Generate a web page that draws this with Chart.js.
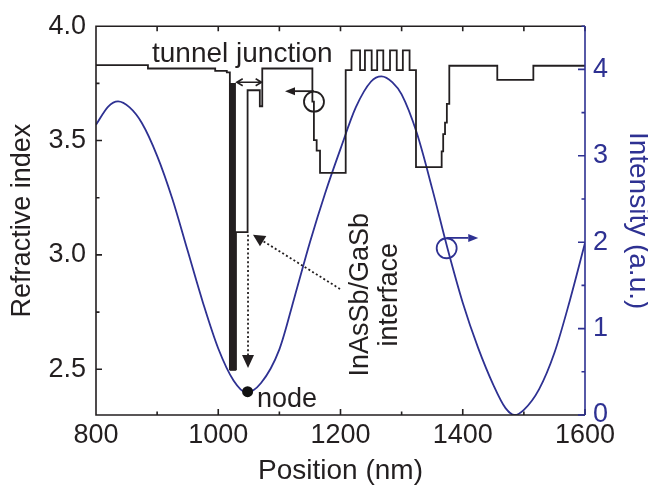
<!DOCTYPE html>
<html>
<head>
<meta charset="utf-8">
<script src="https://cdn.jsdelivr.net/npm/chart.js@4.4.1/dist/chart.umd.min.js"></script>
<style>
  html, body { margin: 0; padding: 0; background: #fff; }
</style>
</head>
<body>
<canvas id="chart" width="648" height="488"></canvas>
<script>
// refractive index profile: start of each layer (nm) and its index
const layerStart = [800, 885, 995, 1014, 1019, 1029, 1048, 1068, 1072, 1154, 1156.5, 1161, 1166.5,
  1208.5, 1218, 1232, 1240, 1251, 1260, 1270, 1281, 1292, 1302, 1313, 1323.5,
  1365.5, 1368, 1371, 1374, 1378, 1456.5, 1515.5, 1600];
const layerIndex = [3.830, 3.815, 3.805, 3.798, 2.50, 3.10, 3.72, 3.65, 3.815, 3.67, 3.502, 3.456, 3.359,
  3.808, 3.894, 3.808, 3.894, 3.808, 3.894, 3.808, 3.894, 3.808, 3.894, 3.808, 3.384,
  3.453, 3.528, 3.578, 3.660, 3.827, 3.765, 3.827, 3.827];
// thin low-index layer of the tunnel junction, drawn solid
const barPos = [1024, 1024];
const barIndex = [2.494, 3.752];
// optical field intensity
const posNm = [800, 820, 836, 855, 875, 900, 925, 950, 975, 1000, 1025, 1046, 1070, 1100, 1125, 1150,
  1175, 1200, 1225, 1250, 1267, 1285, 1300, 1325, 1350, 1375, 1400, 1425, 1450, 1470, 1485, 1500,
  1525, 1550, 1575, 1600];
const intensity = [3.36, 3.57, 3.63, 3.56, 3.38, 3.00, 2.50, 1.90, 1.30, 0.77, 0.40, 0.26, 0.37, 0.76, 1.37, 2.00,
  2.57, 3.08, 3.56, 3.86, 3.92, 3.85, 3.71, 3.26, 2.62, 1.93, 1.30, 0.78, 0.35, 0.08, 0.00, 0.06,
  0.30, 0.72, 1.32, 1.99];
const nodePos = [1048];
const nodeInt = [0.27];
const xTicks = [800, 1000, 1200, 1400, 1600];
const nTicks = [2.5, 3.0, 3.5, 4.0];
const iTicks = [0, 1, 2, 3, 4];

const BLACK = '#231f20';
const BLUE = '#2e3192';
const FONT = "'Liberation Sans', Arial, Helvetica, sans-serif";

const mid = arr => arr.slice(1).map((v, i) => (v + arr[i]) / 2);

function head(ctx, x0, y0, x1, y1, len, hw) {
  const a = Math.atan2(y1 - y0, x1 - x0);
  const bx = x1 - len * Math.cos(a), by = y1 - len * Math.sin(a);
  ctx.beginPath();
  ctx.moveTo(x1, y1);
  ctx.lineTo(bx + hw * Math.sin(a), by - hw * Math.cos(a));
  ctx.lineTo(bx - hw * Math.sin(a), by + hw * Math.cos(a));
  ctx.closePath();
  ctx.fill();
  return [bx, by];
}

const annot = {
  id: 'annot',
  afterDatasetsDraw(chart) {
    const { ctx, chartArea: a, scales: { x, y, y2 } } = chart;
    const px = v => x.getPixelForValue(v);
    const py = v => y.getPixelForValue(v);
    const pi = v => y2.getPixelForValue(v);
    ctx.save();

    // frame + inward ticks
    ctx.lineWidth = 1.6;
    ctx.strokeStyle = BLACK;
    ctx.beginPath();
    ctx.moveTo(a.right, a.top); ctx.lineTo(a.left, a.top);
    ctx.lineTo(a.left, a.bottom); ctx.lineTo(a.right, a.bottom);
    const xAll = xTicks.concat(mid(xTicks));
    xAll.forEach(v => {
      const len = xTicks.includes(v) ? 6 : 3.5;
      ctx.moveTo(px(v), a.bottom); ctx.lineTo(px(v), a.bottom - len);
      ctx.moveTo(px(v), a.top); ctx.lineTo(px(v), a.top + 5);
    });
    nTicks.concat(mid(nTicks)).forEach(v => {
      const len = nTicks.includes(v) ? 6 : 3.5;
      ctx.moveTo(a.left, py(v)); ctx.lineTo(a.left + len, py(v));
    });
    ctx.stroke();
    ctx.strokeStyle = BLUE;
    ctx.beginPath();
    ctx.moveTo(a.right, a.top); ctx.lineTo(a.right, a.bottom);
    iTicks.concat(mid(iTicks), [4.5]).forEach(v => {
      const len = iTicks.includes(v) ? 7 : 3.5;
      ctx.moveTo(a.right, pi(v)); ctx.lineTo(a.right - len, pi(v));
    });
    ctx.stroke();

    // tunnel junction label and double arrow
    ctx.fillStyle = BLACK;
    ctx.strokeStyle = BLACK;
    ctx.font = '28px ' + FONT;
    ctx.textAlign = 'left';
    ctx.textBaseline = 'alphabetic';
    ctx.fillText('tunnel junction', px(891.6), py(3.844));
    let yy = py(3.755), xa = px(1030.2), xb = px(1071);
    ctx.lineWidth = 1.5;
    ctx.beginPath();
    ctx.moveTo(xa, yy); ctx.lineTo(xb, yy);
    ctx.moveTo(xa + 6, yy - 3.5); ctx.lineTo(xa, yy); ctx.lineTo(xa + 6, yy + 3.5);
    ctx.moveTo(xb - 6, yy - 3.5); ctx.lineTo(xb, yy); ctx.lineTo(xb - 6, yy + 3.5);
    ctx.stroke();

    // circle + arrow pointing to left axis
    ctx.lineWidth = 1.8;
    ctx.beginPath();
    ctx.arc(px(1156.6), py(3.670), 10, 0, Math.PI * 2);
    ctx.stroke();
    let y0 = py(3.716), x0 = px(1156.6), x1 = px(1109.2);
    let b = head(ctx, x0, y0, x1, y0, 10, 4);
    ctx.beginPath(); ctx.moveTo(x0, y0); ctx.lineTo(b[0], y0); ctx.stroke();

    // circle + arrow pointing to right axis
    ctx.strokeStyle = BLUE;
    ctx.fillStyle = BLUE;
    ctx.beginPath();
    ctx.arc(px(1373.7), pi(1.93), 10, 0, Math.PI * 2);
    ctx.stroke();
    y0 = pi(2.05); x0 = px(1373.7); x1 = px(1425.4);
    b = head(ctx, x0, y0, x1, y0, 10, 4);
    ctx.beginPath(); ctx.moveTo(x0, y0); ctx.lineTo(b[0], y0); ctx.stroke();

    // dotted arrows to the interface and down to the node
    ctx.strokeStyle = BLACK;
    ctx.fillStyle = BLACK;
    ctx.lineWidth = 1.8;
    ctx.setLineDash([2, 2.4]);
    const sx = px(1199.2), sy = py(2.851), tx = px(1056.8), ty = py(3.088);
    b = head(ctx, sx, sy, tx, ty, 12, 6);
    ctx.beginPath(); ctx.moveTo(sx, sy); ctx.lineTo(b[0], b[1]); ctx.stroke();
    const vx = px(1048.7), vy0 = py(3.088), vy1 = py(2.506);
    b = head(ctx, vx, vy0, vx, vy1, 13, 6);
    ctx.beginPath(); ctx.moveTo(vx, vy0); ctx.lineTo(vx, b[1]); ctx.stroke();
    ctx.setLineDash([]);

    // texts
    ctx.font = '27px ' + FONT;
    ctx.fillText('node', px(1063.4), pi(0.09));
    ctx.textAlign = 'center';
    const cy = py(2.826);
    [['InAsSb/GaSb', 1245], ['interface', 1292.4]].forEach(([t, xv]) => {
      ctx.save();
      ctx.translate(px(xv), cy);
      ctx.rotate(-Math.PI / 2);
      ctx.fillText(t, 0, 0);
      ctx.restore();
    });
    ctx.restore();
  }
};

new Chart(document.getElementById('chart'), {
  type: 'line',
  data: {
    datasets: [
      {
        data: nodePos.map((v, i) => ({ x: v, y: nodeInt[i] })),
        yAxisID: 'y2', showLine: false,
        pointRadius: 5.5, pointBackgroundColor: '#111', pointBorderWidth: 0
      },
      {
        data: barPos.map((v, i) => ({ x: v, y: barIndex[i] })),
        yAxisID: 'y', borderColor: BLACK, borderWidth: 6,
        borderCapStyle: 'butt', pointRadius: 0
      },
      {
        data: layerStart.map((v, i) => ({ x: v, y: layerIndex[i] })),
        yAxisID: 'y', stepped: 'before', borderColor: BLACK, borderWidth: 1.8,
        pointRadius: 0
      },
      {
        data: posNm.map((v, i) => ({ x: v, y: intensity[i] })),
        yAxisID: 'y2', borderColor: BLUE, borderWidth: 1.8,
        cubicInterpolationMode: 'monotone', pointRadius: 0
      }
    ]
  },
  options: {
    responsive: false,
    animation: false,
    layout: { padding: { top: 20, left: 0, right: 0, bottom: 0 } },
    plugins: { legend: { display: false }, tooltip: { enabled: false } },
    scales: {
      x: {
        type: 'linear', position: 'bottom', min: 800, max: 1600,
        afterFit(s) { s.height = 73; },
        afterBuildTicks(s) { s.ticks = xTicks.map(v => ({ value: v })); },
        grid: { display: false, drawTicks: false },
        border: { display: false },
        ticks: { padding: 4, color: BLACK, font: { family: FONT, size: 27 }, maxRotation: 0,
          callback: v => String(v) },
        title: { display: true, text: 'Position (nm)', color: BLACK,
          font: { family: FONT, size: 28, lineHeight: 1.2 }, padding: 0 }
      },
      y: {
        type: 'linear', position: 'left', min: 2.3, max: 4.0,
        afterFit(s) { s.width = 96; },
        afterBuildTicks(s) { s.ticks = nTicks.map(v => ({ value: v })); },
        grid: { display: false, drawTicks: false },
        border: { display: false },
        ticks: { padding: 10, color: BLACK, font: { family: FONT, size: 27 },
          callback: v => v.toFixed(1) },
        title: { display: true, text: 'Refractive index', color: BLACK,
          font: { family: FONT, size: 27, lineHeight: 1.2 }, padding: { top: 6 } }
      },
      y2: {
        type: 'linear', position: 'right', min: 0, max: 4.5,
        afterFit(s) { s.width = 63; },
        afterBuildTicks(s) { s.ticks = iTicks.map(v => ({ value: v })); },
        grid: { display: false, drawTicks: false },
        border: { display: false },
        ticks: { padding: 8, color: BLUE, font: { family: FONT, size: 27 } },
        title: { display: true, text: 'Intensity (a.u.)', color: BLUE,
          font: { family: FONT, size: 28, lineHeight: 0.73 }, padding: { top: 0 } }
      }
    }
  },
  plugins: [annot]
});
</script>
</body>
</html>
